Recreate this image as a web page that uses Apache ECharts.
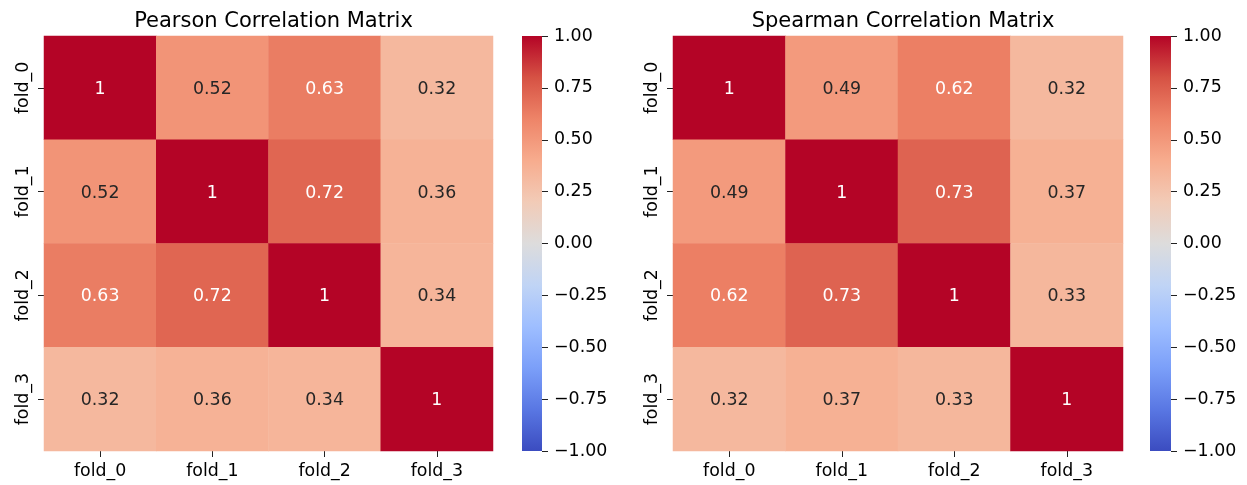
<!DOCTYPE html>
<html><head><meta charset="utf-8">
<script src="https://cdn.jsdelivr.net/npm/echarts@6/dist/echarts.min.js"></script>
<style>html,body{margin:0;padding:0;background:#fff}#c{width:1247px;height:485px}</style>
</head><body><div id="c"></div>
<script>
const folds = ['fold_0','fold_1','fold_2','fold_3'];
const pearson = [
  [1, 0.52, 0.63, 0.32],
  [0.52, 1, 0.72, 0.36],
  [0.63, 0.72, 1, 0.34],
  [0.32, 0.36, 0.34, 1]
];
const spearman = [
  [1, 0.49, 0.62, 0.32],
  [0.49, 1, 0.73, 0.37],
  [0.62, 0.73, 1, 0.33],
  [0.32, 0.37, 0.33, 1]
];
const titles = ['Pearson Correlation Matrix', 'Spearman Correlation Matrix'];
const cbTicks = [-1, -0.75, -0.5, -0.25, 0, 0.25, 0.5, 0.75, 1];
const coolwarm = ['#3b4cc0','#5977e3','#7b9ff9','#9ebeff','#c0d4f5','#dddcdc','#f2cbb7','#f7ac8e','#ee8468','#d65244','#b40426'];

(function(){
const FONT = 'DejaVu Sans';
const FS = 17.4;
/* annotation text turns white on the darker cells (seaborn's luminance rule) */
function textFill(v){ return (v >= 0.57 || v <= -0.65) ? '#ffffff' : '#262626'; }
function cellData(m){
  const out = [];
  m.forEach((row, r) => row.forEach((v, c) => { out.push([c, r, v]); }));
  return out;
}
function fmtCell(v){ return v === 1 ? '1' : v.toFixed(2); }
function fmtCb(v){ const s = Math.abs(v).toFixed(2); return v < 0 ? '\u2212' + s : s; }

const panels = [
  {hx:44, hw:449, cx:522, cw:20},
  {hx:673, hw:450, cx:1150, cw:21}
];
const gTop = 36, gH = 415;
const grids = [], xAxes = [], yAxes = [], series = [], titleOpts = [];
const axisTickStyle = {show:true, length:6, lineStyle:{color:'#222', width:1}};
const heatIdx = [];
panels.forEach((p, i) => {
  const g = grids.length;
  const m = i === 0 ? pearson : spearman;
  grids.push({left:p.hx, top:gTop, width:p.hw, height:gH});
  grids.push({left:p.cx, top:gTop, width:p.cw, height:gH});
  titleOpts.push({text:titles[i], left:p.hx + p.hw/2, top:6, textAlign:'center',
    textStyle:{fontFamily:FONT, fontSize:21, fontWeight:'normal', color:'#000'}});
  xAxes.push({type:'category', gridIndex:g, data:folds, position:'bottom',
    axisLine:{show:false}, axisTick:Object.assign({alignWithLabel:true}, axisTickStyle),
    axisLabel:{fontFamily:FONT, fontSize:FS, color:'#000', margin:12}, splitLine:{show:false}});
  yAxes.push({type:'category', gridIndex:g, data:folds, inverse:true,
    axisLine:{show:false}, axisTick:Object.assign({alignWithLabel:true}, axisTickStyle),
    axisLabel:{fontFamily:FONT, fontSize:FS, color:'#000', rotate:90, margin:12}, splitLine:{show:false}});
  xAxes.push({type:'category', gridIndex:g+1, data:['cb'], show:false});
  yAxes.push({type:'value', gridIndex:g+1, min:-1, max:1, interval:0.25, position:'right',
    axisLine:{show:false}, axisTick:axisTickStyle, splitLine:{show:false},
    axisLabel:{fontFamily:FONT, fontSize:FS, color:'#000', margin:12, formatter:fmtCb}});
  heatIdx.push(series.length);
  series.push({type:'heatmap', xAxisIndex:g, yAxisIndex:g, data:cellData(m),
    label:{show:false}, itemStyle:{borderWidth:0}, emphasis:{disabled:true}});
  series.push({type:'custom', xAxisIndex:g, yAxisIndex:g, data:cellData(m), silent:true, z:10,
    renderItem:function(params, api){
      const v = api.value(2);
      const pt = api.coord([api.value(0), api.value(1)]);
      return {type:'text', x:pt[0], y:pt[1] + 1.5,
        style:{text:fmtCell(v), fill:textFill(v), font:'normal ' + FS + 'px "DejaVu Sans"',
          align:'center', verticalAlign:'middle'}};
    }});
  series.push({type:'custom', xAxisIndex:g+1, yAxisIndex:g+1, data:[[0, -1, 1]], silent:true,
    renderItem:function(params, api){
      const lo = api.coord([0, api.value(1)]);
      const hi = api.coord([0, api.value(2)]);
      const cs = params.coordSys;
      const stops = coolwarm.map((c, k) => ({offset: 1 - k/(coolwarm.length-1), color:c}));
      return {type:'rect', shape:{x:cs.x, y:hi[1], width:cs.width, height:lo[1]-hi[1]},
        style:{fill:new echarts.graphic.LinearGradient(0,0,0,1, stops)}};
    }});
});

const chart = echarts.init(document.getElementById('c'), null, {renderer:'canvas'});
chart.setOption({
  animation:false,
  backgroundColor:'#fff',
  title:titleOpts,
  grid:grids, xAxis:xAxes, yAxis:yAxes,
  visualMap:{type:'continuous', show:false, min:-1, max:1, seriesIndex:heatIdx,
    inRange:{color:coolwarm}},
  series:series
});
})();
</script></body></html>
